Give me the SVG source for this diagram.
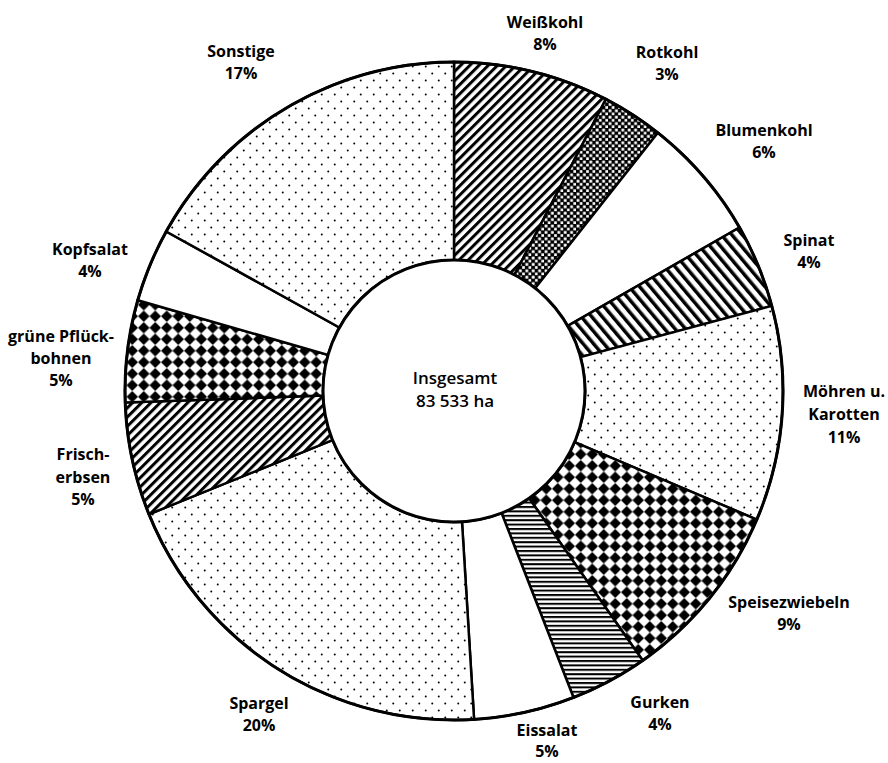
<svg xmlns="http://www.w3.org/2000/svg" width="888" height="763" viewBox="0 0 888 763">
  <style>
    .lbl { font-family: "Open Sans", "Liberation Sans", sans-serif; font-weight: 700; font-size: 16px; fill: #000; text-anchor: middle; }
    .ctr { font-family: "Open Sans", "Liberation Sans", sans-serif; font-weight: 600; font-size: 17px; fill: #000; text-anchor: middle; }
    .slice { stroke: #000; stroke-width: 2.5; stroke-linejoin: miter; }
    .ring { fill: none; stroke: #000; stroke-width: 3; }
  </style>
  <defs>
    <pattern id="dots" width="13" height="14" patternUnits="userSpaceOnUse">
      <rect width="13" height="14" fill="#fff"/>
      <circle cx="3.25" cy="3.5" r="1" fill="#000"/>
      <circle cx="9.75" cy="10.5" r="1" fill="#000"/>
    </pattern>
    <pattern id="fwd" width="6.5" height="6.5" patternUnits="userSpaceOnUse" patternTransform="rotate(45)">
      <rect width="6.5" height="6.5" fill="#fff"/>
      <rect width="3" height="6.5" fill="#000"/>
    </pattern>
    <pattern id="bwd" width="8" height="8" patternUnits="userSpaceOnUse" patternTransform="rotate(-40)">
      <rect width="8" height="8" fill="#fff"/>
      <rect width="3.5" height="8" fill="#000"/>
    </pattern>
    <pattern id="chk" width="6.4" height="6.4" patternUnits="userSpaceOnUse">
      <rect width="6.4" height="6.4" fill="#000"/>
      <rect x="0.6" y="0.6" width="2.8" height="2.8" fill="#fff"/>
      <rect x="3.8" y="3.8" width="2.8" height="2.8" fill="#fff"/>
    </pattern>
    <pattern id="dia" width="11.5" height="11.5" patternUnits="userSpaceOnUse">
      <rect width="11.5" height="11.5" fill="#fff"/>
      <polygon points="5.75,0 11.5,5.75 5.75,11.5 0,5.75" fill="#000"/>
    </pattern>
    <pattern id="hor" width="5" height="4.4" patternUnits="userSpaceOnUse">
      <rect width="5" height="4.4" fill="#fff"/>
      <rect width="5" height="2" fill="#000"/>
    </pattern>
  </defs>
  <rect width="888" height="763" fill="#fff"/>

  <g id="weisskohl">
    <path class="slice" fill="url(#fwd)" d="M454,62 A329,329 0 0 1 605.92,99.17 L514.49,274.80 A131,131 0 0 0 454,260 Z"/>
    <text class="lbl" x="545" y="28">Weißkohl</text>
    <text class="lbl" x="545" y="50">8%</text>
  </g>
  <g id="rotkohl">
    <path class="slice" fill="url(#chk)" d="M605.92,99.17 A329,329 0 0 1 657.87,132.78 L535.18,288.18 A131,131 0 0 0 514.49,274.80 Z"/>
    <text class="lbl" x="667" y="58">Rotkohl</text>
    <text class="lbl" x="667" y="80">3%</text>
  </g>
  <g id="blumenkohl">
    <path class="slice" fill="#fff" d="M657.87,132.78 A329,329 0 0 1 739.53,227.50 L567.69,325.90 A131,131 0 0 0 535.18,288.18 Z"/>
    <text class="lbl" x="764" y="136">Blumenkohl</text>
    <text class="lbl" x="764" y="158">6%</text>
  </g>
  <g id="spinat">
    <path class="slice" fill="url(#bwd)" d="M739.53,227.50 A329,329 0 0 1 771.79,305.85 L580.54,357.09 A131,131 0 0 0 567.69,325.90 Z"/>
    <text class="lbl" x="809" y="246">Spinat</text>
    <text class="lbl" x="809" y="268">4%</text>
  </g>
  <g id="moehren">
    <path class="slice" fill="url(#dots)" d="M771.79,305.85 A329,329 0 0 1 756.84,519.55 L574.59,442.19 A131,131 0 0 0 580.54,357.09 Z"/>
    <text class="lbl" x="844" y="397">Möhren u.</text>
    <text class="lbl" x="844" y="420">Karotten</text>
    <text class="lbl" x="844" y="443">11%</text>
  </g>
  <g id="speisezwiebeln">
    <path class="slice" fill="url(#dia)" d="M756.84,519.55 A329,329 0 0 1 642.71,660.50 L529.14,498.31 A131,131 0 0 0 574.59,442.19 Z"/>
    <text class="lbl" x="789" y="608">Speisezwiebeln</text>
    <text class="lbl" x="789" y="630">9%</text>
  </g>
  <g id="gurken">
    <path class="slice" fill="url(#hor)" d="M642.71,660.50 A329,329 0 0 1 573.51,697.53 L501.59,513.05 A131,131 0 0 0 529.14,498.31 Z"/>
    <text class="lbl" x="660" y="708">Gurken</text>
    <text class="lbl" x="660" y="730">4%</text>
  </g>
  <g id="eissalat">
    <path class="slice" fill="#fff" d="M573.51,697.53 A329,329 0 0 1 474.09,719.39 L462.00,521.76 A131,131 0 0 0 501.59,513.05 Z"/>
    <text class="lbl" x="547" y="736">Eissalat</text>
    <text class="lbl" x="547" y="757">5%</text>
  </g>
  <g id="spargel">
    <path class="slice" fill="url(#dots)" d="M474.09,719.39 A329,329 0 0 1 148.96,514.25 L332.54,440.07 A131,131 0 0 0 462.00,521.76 Z"/>
    <text class="lbl" x="259" y="709">Spargel</text>
    <text class="lbl" x="259" y="731">20%</text>
  </g>
  <g id="frischerbsen">
    <path class="slice" fill="url(#fwd)" d="M148.96,514.25 A329,329 0 0 1 125.20,402.48 L323.08,395.57 A131,131 0 0 0 332.54,440.07 Z"/>
    <text class="lbl" x="83" y="460">Frisch-</text>
    <text class="lbl" x="83" y="483">erbsen</text>
    <text class="lbl" x="83" y="505">5%</text>
  </g>
  <g id="pflueckbohnen">
    <path class="slice" fill="url(#dia)" d="M125.20,402.48 A329,329 0 0 1 137.75,300.31 L328.07,354.89 A131,131 0 0 0 323.08,395.57 Z"/>
    <text class="lbl" x="61" y="342">grüne Pflück-</text>
    <text class="lbl" x="61" y="364">bohnen</text>
    <text class="lbl" x="61" y="386">5%</text>
  </g>
  <g id="kopfsalat">
    <path class="slice" fill="#fff" d="M137.75,300.31 A329,329 0 0 1 166.25,231.50 L339.42,327.49 A131,131 0 0 0 328.07,354.89 Z"/>
    <text class="lbl" x="90" y="255">Kopfsalat</text>
    <text class="lbl" x="90" y="277">4%</text>
  </g>
  <g id="sonstige">
    <path class="slice" fill="url(#dots)" d="M166.25,231.50 A329,329 0 0 1 454,62 L454,260 A131,131 0 0 0 339.42,327.49 Z"/>
    <text class="lbl" x="241" y="57">Sonstige</text>
    <text class="lbl" x="241" y="79">17%</text>
  </g>

  <g id="rings">
    <circle class="ring" cx="454" cy="391" r="329"/>
  </g>
  <g id="center">
    <circle cx="454" cy="391" r="131" fill="#fff" stroke="#000" stroke-width="3"/>
    <text class="ctr" x="455" y="384">Insgesamt</text>
    <text class="ctr" x="455" y="407">83 533 ha</text>
  </g>
  <g id="connectors"/>
</svg>
